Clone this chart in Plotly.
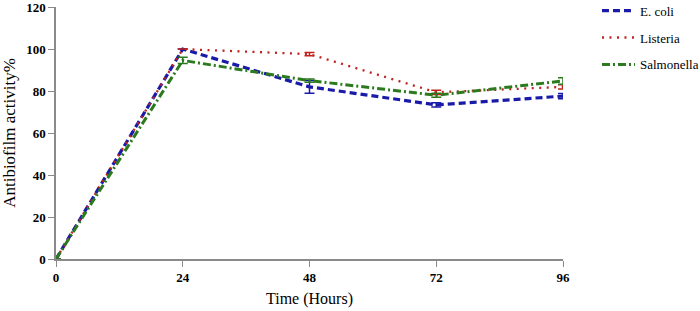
import plotly.graph_objects as go

time_h = [0, 24, 48, 72, 96]
ecoli = [0, 100, 82.0, 73.4, 77.6]
ecoli_err = [0, 0, 3.0, 1.0, 1.2]
listeria = [0, 100, 97.6, 79.4, 82.0]
listeria_err = [0, 0, 0.8, 1.0, 1.0]
salmonella = [0, 94.6, 85.0, 78.0, 84.8]
salmonella_err = [0, 1.5, 0.8, 1.0, 1.6]
names = ["E. coli", "Listeria", "Salmonella"]
x_ticks = [0, 24, 48, 72, 96]
y_ticks = [0, 20, 40, 60, 80, 100, 120]

colors = ["#1a1aa8", "#c0231e", "#2b7a1e"]
dashes = ["7px,4px", "2px,5.5px", "8px,3px,2px,3px"]
widths = [3.2, 2.3, 3.0]
series = [ecoli, listeria, salmonella]
errs = [ecoli_err, listeria_err, salmonella_err]

fig = go.Figure()
for name, y, e, c, d, w in zip(names, series, errs, colors, dashes, widths):
    fig.add_trace(go.Scatter(
        x=time_h, y=y, name=name, mode="lines", legendgroup=name,
        line=dict(color=c, dash=d, width=w),
        error_y=dict(type="data", array=e, visible=True, color=c, thickness=1.5, width=5),
    ))

fig.update_layout(
    width=700, height=311,
    margin=dict(l=56, r=137, t=7, b=52, autoexpand=False),
    paper_bgcolor="white", plot_bgcolor="white",
    font=dict(family="Liberation Serif", color="black"),
    showlegend=True,
    legend=dict(x=1.067, y=1.045, xanchor="left", yanchor="top",
                font=dict(size=13, family="Liberation Serif"),
                traceorder="grouped", tracegroupgap=7, itemwidth=33),
    xaxis=dict(range=[0, 96], tickvals=x_ticks, showgrid=False, zeroline=False,
               showline=True, linecolor="#8a8a8a", linewidth=1.5, automargin=False,
               ticks="outside", ticklen=6, tickcolor="#8a8a8a",
               tickfont=dict(size=13, family="Liberation Serif", weight="bold"),
               title=dict(text="Time (Hours)", font=dict(size=16), standoff=8)),
    yaxis=dict(range=[0, 120.05], tickvals=y_ticks, showgrid=False, zeroline=False,
               showline=True, linecolor="#8a8a8a", linewidth=1.5, automargin=False,
               ticks="outside", ticklen=6, tickcolor="#8a8a8a",
               ticklabeloverflow="allow",
               tickfont=dict(size=13, family="Liberation Serif", weight="bold"),
               title=dict(text="Antibiofilm activity%", font=dict(size=17), standoff=6)),
)

fig.write_html("out.html", config={"displayModeBar": False},
               post_script="document.body.style.margin='0';")
